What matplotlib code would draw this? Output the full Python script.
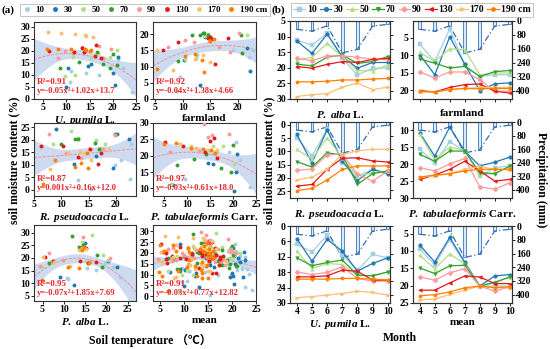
import numpy as np
import matplotlib
matplotlib.use("Agg")
import matplotlib.pyplot as plt
from matplotlib.lines import Line2D

plt.rcParams['font.family'] = ['Liberation Serif', 'Noto Sans CJK SC', 'DejaVu Sans']
plt.rcParams['font.weight'] = 'bold'
plt.rcParams['axes.labelweight'] = 'bold'
plt.rcParams['mathtext.fontset'] = 'custom'
plt.rcParams['mathtext.it'] = 'Liberation Serif:italic:bold'
plt.rcParams['mathtext.rm'] = 'Liberation Serif:bold'
plt.rcParams['mathtext.bf'] = 'Liberation Serif:bold'

# ---------------- data ----------------
depths = ['10', '30', '50', '70', '90', '130', '170', '190 cm']
colors = ['#a6cee3', '#1f78b4', '#b2df8a', '#33a02c', '#fb9a99', '#e31a1c', '#fdbf6f', '#ff7f00']
line_markers = ['s', 'o', '^', 'v', 'D', '<', '>', 'h']

# (a) scatter: soil temperature vs soil moisture, one list per depth
pumila_temp = [[10.7, 11.0, 14.3, 17.0, 21.2, 24.1, 22.1], [10.4, 14.6, 15.4, 20.0, 20.4, 21.2, 10.0],
               [11.4, 16.8, 19.3, 20.9, 15.4, 11.8, 9.6], [8.6, 12.6, 16.5, 17.9, 20.1, 19.3, 21.0],
               [9.6, 13.4, 17.9, 19.6, 17.1, 8.2, 11.5], [6.3, 11.6, 13.8, 16.4, 16.1, 17.5, 13.4],
               [6.0, 8.8, 11.9, 14.0, 15.8, 14.2], [5.9, 8.2, 11.0, 13.9, 15.0, 15.4, 14.2]]
pumila_moist = [[7.2, 11.8, 11.0, 10.0, 16.6, 2.8, 12.7], [12.7, 13.8, 14.4, 10.6, 5.8, 17.6, 4.8],
                [17.3, 19.2, 17.6, 20.3, 16.9, 10.0, 9.6], [12.7, 15.4, 19.4, 14.5, 18.9, 13.0, 14.0],
                [19.9, 21.7, 16.9, 20.6, 22.0, 16.9, 19.0], [19.9, 19.6, 19.6, 22.4, 17.8, 17.2, 21.0],
                [28.0, 27.5, 27.0, 26.8, 25.7, 26.2], [20.7, 20.7, 20.6, 20.7, 20.0, 20.2, 20.5]]

farm_temp = [[9.5, 14.3, 19.2, 22.0, 22.7, 12.5], [13.7, 14.1, 13.2, 21.7, 22.2, 10.2, 15.2],
             [10.5, 12.4, 14.6, 21.7, 14.1, 9.0], [9.2, 11.7, 13.2, 13.8, 20.5, 20.8, 14.5],
             [7.4, 10.5, 18.6, 20.2, 16.5, 12.0], [6.5, 9.2, 15.0, 15.9, 18.2, 14.5, 15.2],
             [5.3, 8.3, 13.7, 15.0, 14.8, 12.3], [5.3, 10.5, 13.5, 13.8, 15.6, 12.3, 15.0]]
farm_moist = [[6.7, 19.5, 15.0, 13.1, 15.3, 13.5], [20.3, 19.3, 4.3, 15.7, 8.7, 12.1, 19.0],
              [12.3, 12.8, 20.0, 19.8, 19.5, 2.5], [11.8, 19.8, 19.8, 20.3, 19.8, 14.1, 19.8],
              [16.2, 18.2, 14.6, 20.3, 16.0, 17.5], [15.2, 17.7, 19.3, 10.8, 18.8, 19.0, 18.5],
              [15.2, 9.0, 13.6, 11.5, 18.0, 12.5], [9.2, 13.3, 12.1, 8.5, 18.5, 13.8, 18.0]]

robinia_temp = [[13.0, 19.8, 21.0, 22.8, 22.6, 15.5], [9.1, 12.4, 16.3, 20.2, 22.4, 19.5],
                [8.5, 11.8, 16.4, 18.1, 13.0, 17.2], [10.0, 12.6, 13.0, 16.1, 19.8, 17.0],
                [7.7, 10.9, 13.7, 17.6, 19.8, 15.0], [6.2, 10.3, 13.0, 15.2, 16.7, 17.3],
                [7.9, 11.2, 14.3, 15.5, 18.8, 13.5], [6.6, 8.8, 12.6, 13.7, 14.9, 14.7]]
robinia_moist = [[3.9, 9.9, 12.1, 18.2, 4.2, 0.5], [24.1, 10.5, 13.6, 22.1, 20.4, 8.9],
                 [18.4, 23.4, 20.0, 18.2, 20.5, 16.8], [18.4, 20.4, 20.4, 18.7, 22.4, 16.1],
                 [22.4, 14.7, 12.5, 16.4, 21.7, 16.2], [17.4, 17.4, 13.2, 16.1, 10.5, 14.5],
                 [8.2, 14.5, 14.5, 11.8, 16.4, 15.0], [2.4, 11.8, 9.2, 10.9, 8.6, 14.5]]

pinus_temp = [[9.5, 15.6, 20.6, 19.1, 21.6, 23.6], [7.0, 14.5, 15.6, 20.6, 20.2, 20.9],
              [6.6, 10.9, 15.6, 17.9, 20.2, 16.3], [7.9, 11.6, 14.1, 19.5, 19.9, 17.4],
              [6.3, 14.5, 15.4, 13.6, 19.1, 12.5], [5.2, 9.1, 14.9, 15.9, 13.8, 16.6],
              [8.4, 12.0, 14.5, 16.6, 10.9], [4.9, 7.7, 10.9, 13.4, 15.2, 16.1]]
pinus_moist = [[13.0, 20.5, 24.3, 21.0, 18.7, 10.3], [11.0, 17.8, 17.5, 15.0, 9.3, 20.5],
               [11.5, 23.0, 23.0, 23.0, 17.5, 21.0], [17.3, 19.0, 20.5, 15.0, 23.2, 16.3],
               [21.0, 25.7, 26.2, 29.8, 26.7, 21.5], [24.3, 23.0, 24.5, 25.3, 21.0, 19.2],
               [23.5, 22.5, 21.7, 21.7, 22.0], [23.7, 23.8, 22.5, 22.0, 21.7, 20.7]]

alba_temp = [[10.7, 17.7, 19.7, 21.6, 23.2, 15.4, 11.0], [9.1, 12.3, 20.5, 22.6, 15.0, 14.2],
             [4.8, 14.2, 16.6, 19.3, 20.5, 15.3], [6.6, 11.9, 14.5, 17.9, 18.9, 13.6],
             [6.6, 9.9, 14.6, 16.2, 20.9, 4.5], [5.5, 7.4, 13.8, 15.2, 15.8, 17.5],
             [5.1, 7.7, 11.5, 14.2, 15.2, 13.6], [4.8, 11.1, 13.7, 14.2, 16.0, 14.8]]
alba_moist = [[12.0, 15.3, 17.9, 16.6, 12.4, 15.9, 11.5], [12.6, 9.3, 18.6, 16.6, 25.8, 24.5],
              [16.6, 26.4, 29.1, 21.2, 19.2, 18.8], [17.9, 28.7, 25.1, 21.2, 16.6, 24.5],
              [21.8, 19.0, 28.4, 18.6, 19.9, 17.0], [20.3, 18.6, 18.6, 23.8, 17.9, 18.2],
              [20.3, 18.2, 16.8, 23.8, 23.4, 23.0], [11.3, 16.6, 15.9, 23.2, 17.9, 24.5]]

scatter_titles = [r'$\it{U.\ pumila}$ L.', 'farmland', r'$\it{R.\ pseudoacacia}$ L.',
                  r'$\it{P.\ tabulaeformis}$ Carr.', r'$\it{P.\ alba}$ L.', 'mean']
fit_a = [-0.05, -0.04, 0.001, -0.03, -0.07, -0.03]
fit_b = [1.02, 1.38, 0.16, 0.61, 1.85, 0.77]
fit_c = [13.7, 4.66, 12.0, 18.0, 7.69, 12.82]
fit_r2 = ['0.91', '0.92', '0.87', '0.97', '0.95', '0.91']
fit_eq = ['y=-0.05x²+1.02x+13.7', 'y=-0.04x²+1.38x+4.66', 'y=0.001x²+0.16x+12.0',
          'y=-0.03x²+0.61x+18.0', 'y=-0.07x²+1.85x+7.69', 'y=-0.03x²+0.77x+12.82']

# (b) monthly soil moisture by depth, and precipitation
months = [4, 5, 6, 7, 8, 9, 10]
precip = [48, 58, 28, 183, 163, 29, 19]

alba_month = [[11.2, 12.7, 9.0, 17.0, 22.3, 20.1, 20.1], [11.4, 15.4, 9.2, 16.4, 20.1, 18.3, 18.3],
              [17.5, 16.6, 12.2, 16.4, 20.9, 20.9, 19.1], [18.8, 19.4, 16.6, 15.9, 18.6, 18.0, 16.4],
              [17.0, 17.7, 16.2, 16.2, 16.6, 17.3, 17.3], [19.6, 20.1, 18.9, 18.0, 18.3, 17.3, 17.0],
              [29.2, 28.6, 28.3, 26.2, 24.9, 27.0, 26.2], [24.5, 24.5, 24.3, 23.9, 23.9, 23.6, 23.4]]
farm_month = [[6.9, 11.8, 2.6, 12.8, 16.1, 15.6, 15.6], [9.9, 15.6, 4.8, 12.6, 20.1, 18.2, 17.9],
              [9.2, 11.8, 8.2, 8.5, 15.6, 15.1, 15.1], [11.1, 12.3, 13.7, 13.2, 16.1, 14.7, 14.4],
              [14.8, 16.5, 14.8, 14.8, 17.0, 20.3, 20.3], [20.1, 20.5, 19.2, 18.4, 18.2, 20.3, 20.8],
              [20.5, 20.5, 19.8, 19.5, 19.2, 19.2, 19.2], [20.3, 20.5, 19.8, 19.5, 19.6, 19.5, 19.5]]
robinia_month = [[4.8, 11.7, 1.7, 14.3, 19.3, 16.8, 18.1], [3.6, 14.3, 1.9, 13.6, 21.0, 16.8, 18.4],
                 [9.2, 13.0, 4.8, 12.4, 19.3, 18.1, 17.4], [13.9, 15.9, 10.5, 11.4, 22.5, 18.4, 17.4],
                 [17.2, 16.6, 11.4, 10.9, 18.7, 21.2, 17.4], [23.1, 22.5, 16.8, 12.6, 12.4, 13.6, 14.0],
                 [20.8, 19.7, 16.8, 11.1, 9.8, 9.2, 9.2], [24.8, 24.0, 20.8, 16.8, 15.5, 15.5, 15.5]]
pinus_month = [[15.6, 19.6, 13.3, 16.1, 23.5, 21.0, 20.5], [10.7, 17.6, 9.0, 16.1, 20.5, 19.4, 17.9],
               [11.2, 18.6, 14.9, 15.9, 23.2, 22.7, 20.6], [17.1, 19.1, 16.1, 16.1, 22.5, 22.8, 20.6],
               [21.0, 22.0, 19.9, 18.3, 26.7, 27.4, 25.5], [24.5, 23.2, 21.5, 19.1, 22.0, 25.0, 24.5],
               [23.8, 23.5, 22.8, 21.5, 20.6, 21.5, 21.7], [23.8, 23.2, 22.8, 22.0, 21.5, 21.5, 21.5]]
pumila_month = [[7.2, 10.1, 3.6, 11.4, 17.2, 11.1, 12.4], [4.9, 13.7, 5.2, 9.8, 17.6, 14.6, 12.4],
                [9.8, 16.6, 14.6, 15.0, 19.4, 19.4, 17.9], [12.4, 15.5, 14.2, 13.3, 19.1, 19.4, 17.9],
                [17.9, 18.9, 18.1, 15.9, 20.4, 21.5, 21.5], [19.8, 19.8, 19.4, 17.2, 17.6, 21.1, 21.1],
                [27.9, 27.5, 26.9, 26.3, 25.4, 25.9, 26.9], [20.7, 20.7, 20.7, 20.4, 20.4, 20.7, 21.1]]
mean_month = [[9.4, 14.0, 6.7, 13.7, 20.1, 20.1, 20.1], [8.3, 13.2, 6.1, 13.2, 20.1, 17.2, 16.8],
              [11.3, 15.1, 10.8, 13.7, 20.1, 18.9, 17.5], [14.9, 16.5, 14.3, 14.1, 20.1, 19.1, 17.5],
              [17.5, 18.4, 16.3, 15.1, 20.1, 21.6, 20.3], [21.3, 21.3, 19.2, 17.2, 17.5, 19.4, 19.4],
              [24.1, 23.9, 22.5, 21.3, 20.1, 20.6, 20.6], [22.9, 22.6, 21.8, 20.6, 20.1, 20.6, 20.3]]
line_titles = [r'$\it{P.\ alba}$ L.', 'farmland', r'$\it{R.\ pseudoacacia}$ L.',
               r'$\it{P.\ tabulaeformis}$ Carr.', r'$\it{U.\ pumila}$ L.', 'mean']

# ---------------- figure ----------------
W, H = 550, 349
fig = plt.figure(figsize=(5.5, 3.49), dpi=100)


def rect(x0, x1, y0, y1):
    return [x0 / W, 1 - y1 / H, (x1 - x0) / W, (y1 - y0) / H]


red = '#e8262a'
tick_fs = 7

# ----- panel (a) -----
a_cols = [(34, 136), (153, 256)]
a_rows = [(22, 99), (123, 196), (225, 301)]
a_xlim = [(3, 25), (4.6, 23.3), (5, 23.7), (2.6, 25), (3, 27), (3.5, 25)]
a_ylim = [(0, 32), (0, 23.8), (-2.4, 26.6), (7.7, 30), (3, 33), (-2.3, 33)]
a_xt = [[5, 10, 15, 20, 25], [5, 10, 15, 20], [5, 10, 15, 20], [5, 10, 15, 20, 25],
        [5, 10, 15, 20, 25], [5, 10, 15, 20, 25]]
a_yt = [[0, 5, 10, 15, 20, 25, 30], [0, 5, 10, 15, 20], [0, 5, 10, 15, 20, 25],
        [10, 15, 20, 25, 30], [5, 10, 15, 20, 25, 30], [0, 5, 10, 15, 20, 25, 30]]

site_temp = [pumila_temp, farm_temp, robinia_temp, pinus_temp, alba_temp]
site_moist = [pumila_moist, farm_moist, robinia_moist, pinus_moist, alba_moist]
mean_temp = [sum((s[d] for s in site_temp), []) for d in range(8)]
mean_moist = [sum((s[d] for s in site_moist), []) for d in range(8)]
all_temp = site_temp + [mean_temp]
all_moist = site_moist + [mean_moist]

for i in range(6):
    r, c = divmod(i, 2)
    ax = fig.add_axes(rect(a_cols[c][0], a_cols[c][1], a_rows[r][0], a_rows[r][1]))
    xs_all, ys_all = [], []
    for d in range(8):
        ax.scatter(all_temp[i][d], all_moist[i][d], s=8, color=colors[d], linewidths=0, zorder=3)
        xs_all += all_temp[i][d]
        ys_all += all_moist[i][d]
    xs_all = np.array(xs_all)
    ys_all = np.array(ys_all)
    beta = np.array([fit_a[i], fit_b[i], fit_c[i]])
    X = np.column_stack([xs_all ** 2, xs_all, np.ones_like(xs_all)])
    res = ys_all - X @ beta
    s2 = np.sum(res ** 2) / (len(xs_all) - 3)
    cov = s2 * np.linalg.inv(X.T @ X)
    xg = np.linspace(a_xlim[i][0], a_xlim[i][1], 200)
    Xg = np.column_stack([xg ** 2, xg, np.ones_like(xg)])
    yg = Xg @ beta
    se = np.sqrt(np.einsum('ij,jk,ik->i', Xg, cov, Xg))
    ax.fill_between(xg, yg - 2 * se, yg + 2 * se, color='#b9cbeb', alpha=0.7, lw=0, zorder=1)
    ax.plot(xg, yg, color='#f08a8a', lw=0.6, ls='--', zorder=2)
    ax.set_xlim(a_xlim[i])
    ax.set_ylim(a_ylim[i])
    ax.set_xticks(a_xt[i])
    ax.set_yticks(a_yt[i])
    ax.tick_params(labelsize=tick_fs, length=2, width=0.6, pad=1)
    for sp in ax.spines.values():
        sp.set_linewidth(0.8)
        sp.set_color('#333333')
    ax.text(0.03, 0.2, 'R²=' + fit_r2[i], transform=ax.transAxes, color=red, fontsize=6.5,
            fontweight='bold')
    ax.text(0.03, 0.08, fit_eq[i], transform=ax.transAxes, color=red, fontsize=6.2,
            fontweight='bold')
    ax.set_xlabel(scatter_titles[i], fontsize=8, labelpad=1)

fig.text(14 / W, 1 - 160 / H, 'soil moisture content (%)', rotation=90, fontsize=8.5,
         fontweight='bold', ha='center', va='center')
fig.text(150 / W, 1 - 340 / H, 'Soil temperature （℃）', fontsize=8.5, fontweight='bold',
         ha='center', va='center')
fig.text(2 / W, 1 - 10 / H, '(a)', fontsize=8, fontweight='bold', ha='left', va='center')

a_handles = [Line2D([], [], marker='o', ls='', color=colors[d], markersize=2.5) for d in range(8)]
leg_a = fig.legend(a_handles, depths, loc='center', bbox_to_anchor=(145 / W, 1 - 10 / H), ncol=8,
                   fontsize=6.5, frameon=True, handlelength=0.9, handletextpad=0.5, columnspacing=0.7,
                   borderpad=0.25, fancybox=False, edgecolor='#aaaaaa')
leg_a.get_frame().set_linewidth(0.6)

# ----- panel (b) -----
b_cols = [(290, 390), (413, 512)]
b_rows = [(21, 99), (122, 198), (226, 303)]
b_ylim = [(30, 5), (22.5, 0.3), (27.6, -1.1), (30, 7.5), (30, 0), (25, 2.8)]
b_yt = [[5, 10, 15, 20, 25, 30], [5, 10, 15, 20], [0, 5, 10, 15, 20, 25],
        [10, 15, 20, 25, 30], [0, 6, 12, 18, 24, 30], [5, 10, 15, 20, 25]]
line_data = [alba_month, farm_month, robinia_month, pinus_month, pumila_month, mean_month]

for i in range(6):
    r, c = divmod(i, 2)
    ax = fig.add_axes(rect(b_cols[c][0], b_cols[c][1], b_rows[r][0], b_rows[r][1]))
    tw = ax.twinx()
    tw.bar(months, precip, width=0.17, bottom=0, color='#dde9f7', edgecolor='#4f86c6', lw=0.7)
    tw.plot(months, precip, color='#2f6db5', lw=0.9, ls=(0, (5, 2, 1, 2)))
    tw.set_ylim(448, 0)
    tw.set_yticks([0, 80, 160, 240, 320, 400])
    if c == 0:
        tw.set_yticklabels([])
    tw.tick_params(labelsize=tick_fs, length=2, width=0.6, pad=1)
    ax.set_zorder(tw.get_zorder() + 1)
    ax.patch.set_visible(False)
    for d in range(8):
        ax.plot(months, line_data[i][d], color=colors[d], marker=line_markers[d], markersize=2.6,
                lw=0.9, markeredgewidth=0.3)
    ax.set_xlim(3.55, 10.15)
    ax.set_ylim(b_ylim[i])
    ax.set_yticks(b_yt[i])
    ax.set_xticks(months)
    if r < 2:
        ax.set_xticklabels([])
    ax.tick_params(labelsize=tick_fs, length=2, width=0.6, pad=1)
    for a_ in (ax, tw):
        for sp in a_.spines.values():
            sp.set_linewidth(0.8)
            sp.set_color('#333333')
    ax.set_xlabel(line_titles[i], fontsize=8, labelpad=4 if r < 2 else 1)

fig.text(269 / W, 1 - 160 / H, 'soil moisture content (%)', rotation=90, fontsize=8.5,
         fontweight='bold', ha='center', va='center')
fig.text(541 / W, 1 - 180 / H, 'Precipitation (mm)', rotation=270, fontsize=8.5,
         fontweight='bold', ha='center', va='center')
fig.text(400 / W, 1 - 338 / H, 'Month', fontsize=8.5, fontweight='bold', ha='center', va='center')
fig.text(271 / W, 1 - 10 / H, '(b)', fontsize=8, fontweight='bold', ha='left', va='center')

b_handles = [Line2D([], [], marker=line_markers[d], color=colors[d], markersize=2.6, lw=0.9)
             for d in range(8)]
leg_b = fig.legend(b_handles, depths, loc='center', bbox_to_anchor=(412 / W, 1 - 10 / H), ncol=8,
                   fontsize=7, frameon=True, handlelength=1.2, handletextpad=0.2, columnspacing=0.3,
                   borderpad=0.25, fancybox=False, edgecolor='#aaaaaa')
leg_b.get_frame().set_linewidth(0.6)

fig.savefig('out.png', dpi=100)
